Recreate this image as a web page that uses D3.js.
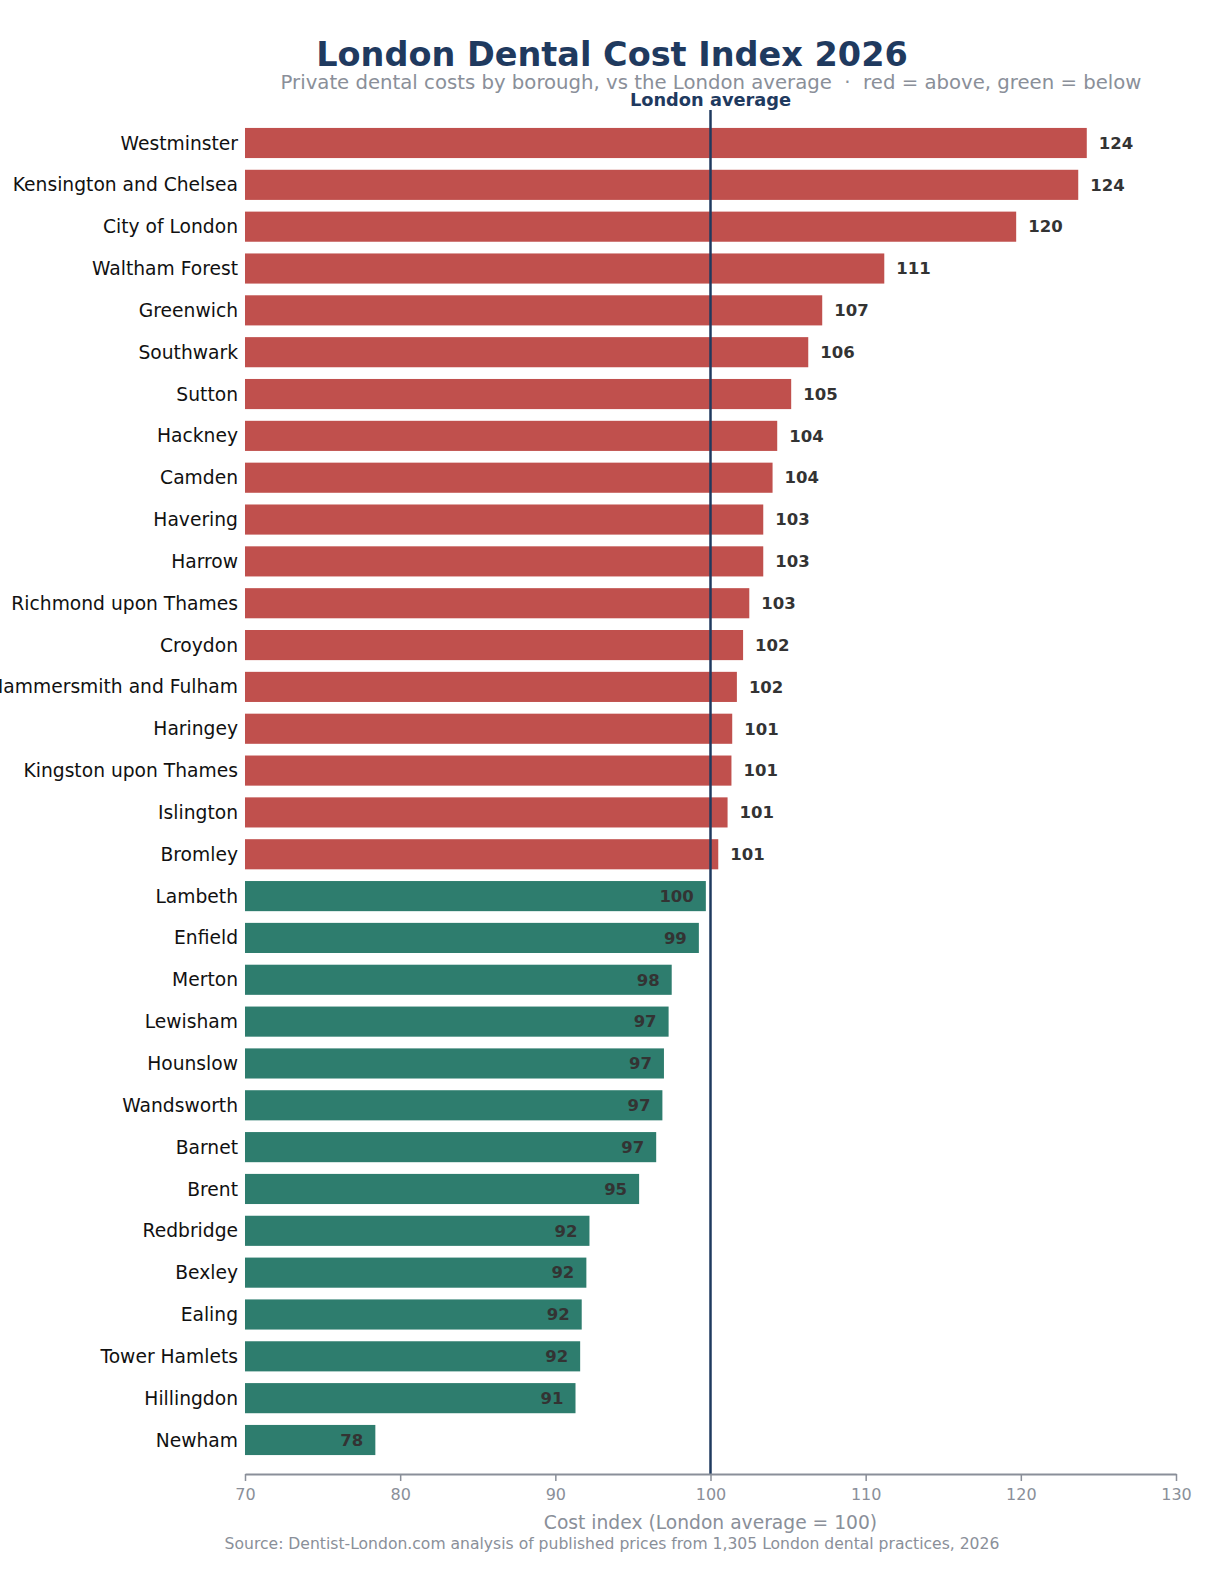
<!DOCTYPE html>
<html>
<head>
<meta charset="utf-8">
<script src="https://cdn.jsdelivr.net/npm/d3@7"></script>
<style>
  html, body { margin: 0; padding: 0; background: #ffffff; overflow: hidden; }
  svg { display: block; font-family: "DejaVu Sans", sans-serif; }
</style>
</head>
<body>
<div id="chart"></div>
<script>
const BOROUGHS = [
  "Westminster", "Kensington and Chelsea", "City of London", "Waltham Forest",
  "Greenwich", "Southwark", "Sutton", "Hackney", "Camden", "Havering",
  "Harrow", "Richmond upon Thames", "Croydon", "Hammersmith and Fulham",
  "Haringey", "Kingston upon Thames", "Islington", "Bromley", "Lambeth",
  "Enfield", "Merton", "Lewisham", "Hounslow", "Wandsworth", "Barnet",
  "Brent", "Redbridge", "Bexley", "Ealing", "Tower Hamlets", "Hillingdon",
  "Newham",
];

const COST_INDEX = [
  124.25, 123.7, 119.7, 111.2, 107.2, 106.3, 105.2, 104.3, 104.0, 103.4,
  103.4, 102.5, 102.1, 101.7, 101.4, 101.35, 101.1, 100.5, 99.7, 99.25,
  97.5, 97.3, 97.0, 96.9, 96.5, 95.4, 92.2, 92.0, 91.7, 91.6, 91.3, 78.4,
];

const X_TICKS = [70, 80, 90, 100, 110, 120, 130];
const AVERAGE = 100;

const ABOVE_COLOR = "#c0504d";
const BELOW_COLOR = "#2e7d6e";
const NAVY = "#1f3a5f";
const GREY = "#8a8f99";

const width = 1230;
const height = 1575;
const margin = { left: 245, right: 54 };
const axisY = 1474;

const rows = BOROUGHS.map((name, i) => ({ name, value: COST_INDEX[i] }));

const svg = d3
  .select("#chart")
  .append("svg")
  .attr("width", width)
  .attr("height", height);

const x = d3
  .scaleLinear()
  .domain([70, 130])
  .range([margin.left, width - margin.right]);

const step = (1440 - 143) / (BOROUGHS.length - 1);
const y = d3
  .scaleBand()
  .domain(BOROUGHS)
  .range([143 - step / 2, 1440 + step / 2])
  .paddingInner(0.28)
  .paddingOuter(0.14);

// titles
svg
  .append("text")
  .attr("x", 612)
  .attr("y", 66)
  .attr("text-anchor", "middle")
  .attr("font-size", 33.5)
  .attr("font-weight", 700)
  .attr("fill", NAVY)
  .text("London Dental Cost Index 2026");

svg
  .append("text")
  .attr("x", 711)
  .attr("y", 89)
  .attr("text-anchor", "middle")
  .attr("font-size", 19.7)
  .attr("fill", GREY)
  .style("white-space", "pre")
  .text("Private dental costs by borough, vs the London average  \u00b7  red = above, green = below");

// bars
svg
  .append("g")
  .selectAll("rect")
  .data(rows)
  .join("rect")
  .attr("x", x(70))
  .attr("y", (d) => y(d.name))
  .attr("width", (d) => x(d.value) - x(70))
  .attr("height", y.bandwidth())
  .attr("fill", (d) => (d.value >= AVERAGE ? ABOVE_COLOR : BELOW_COLOR));

// value labels
svg
  .append("g")
  .selectAll("text")
  .data(rows)
  .join("text")
  .attr("x", (d) => (d.value >= AVERAGE ? x(d.value) + 12 : x(d.value) - 12))
  .attr("y", (d) => y(d.name) + y.bandwidth() / 2)
  .attr("dy", "0.35em")
  .attr("text-anchor", (d) => (d.value >= AVERAGE ? "start" : "end"))
  .attr("font-size", 16.5)
  .attr("font-weight", 700)
  .attr("fill", "#333333")
  .text((d) => Math.round(d.value));

// borough names
svg
  .append("g")
  .selectAll("text")
  .data(rows)
  .join("text")
  .attr("x", margin.left - 7)
  .attr("y", (d) => y(d.name) + y.bandwidth() / 2)
  .attr("dy", "0.35em")
  .attr("text-anchor", "end")
  .attr("font-size", 18.7)
  .attr("fill", "#111111")
  .text((d) => d.name);

// London average line
svg
  .append("line")
  .attr("x1", x(AVERAGE))
  .attr("x2", x(AVERAGE))
  .attr("y1", 110)
  .attr("y2", axisY)
  .attr("stroke", NAVY)
  .attr("stroke-width", 2.5);

svg
  .append("text")
  .attr("x", x(AVERAGE))
  .attr("y", 106)
  .attr("text-anchor", "middle")
  .attr("font-size", 17.8)
  .attr("font-weight", 700)
  .attr("fill", NAVY)
  .text("London average");

// x axis
const xAxis = svg
  .append("g")
  .attr("transform", `translate(0,${axisY})`)
  .call(d3.axisBottom(x).tickValues(X_TICKS).tickSize(7).tickPadding(8).tickSizeOuter(0));

xAxis.select(".domain").attr("stroke", GREY).attr("stroke-width", 2);
xAxis.selectAll(".tick line").attr("stroke", GREY).attr("stroke-width", 1.5);
xAxis
  .selectAll(".tick text")
  .attr("fill", GREY)
  .attr("font-size", 16)
  .attr("font-family", "DejaVu Sans, sans-serif");

svg
  .append("text")
  .attr("x", x(AVERAGE))
  .attr("y", 1529)
  .attr("text-anchor", "middle")
  .attr("font-size", 18.7)
  .attr("fill", GREY)
  .text("Cost index (London average = 100)");

svg
  .append("text")
  .attr("x", 612)
  .attr("y", 1549)
  .attr("text-anchor", "middle")
  .attr("font-size", 15.6)
  .attr("fill", GREY)
  .text("Source: Dentist-London.com analysis of published prices from 1,305 London dental practices, 2026");
</script>
</body>
</html>
